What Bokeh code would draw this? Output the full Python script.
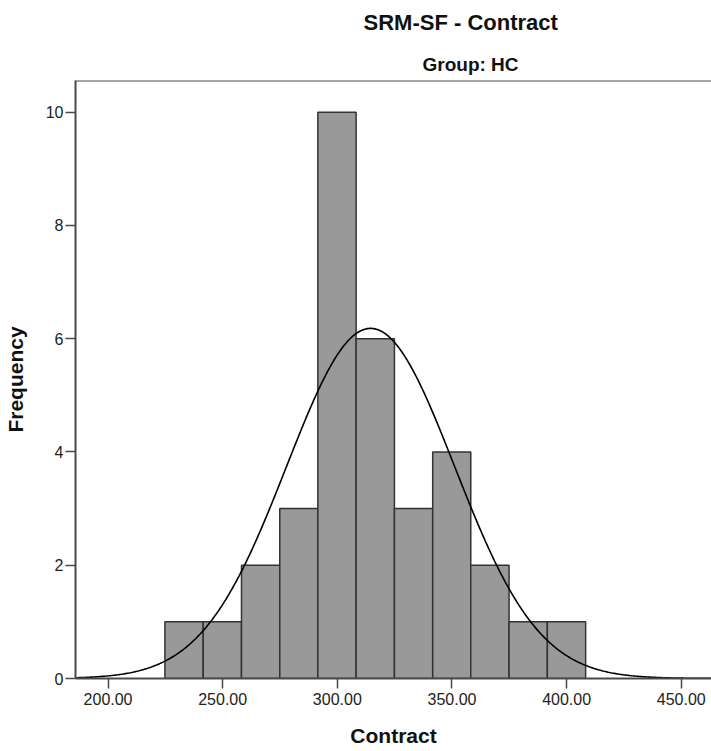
import numpy as np
from bokeh.plotting import figure
from bokeh.models import Range1d, FixedTicker, PrintfTickFormatter, Title, Span
from bokeh.embed import file_html
from bokeh.resources import INLINE

# ---- data ----
bin_edges = [224.8, 241.5, 258.2, 274.9, 291.5, 308.2, 324.9, 341.6, 358.2, 374.9, 391.6, 408.3]
counts = [1, 1, 2, 3, 10, 6, 3, 4, 2, 1, 1]
x_ticks = [200, 250, 300, 350, 400, 450]
y_ticks = [0, 2, 4, 6, 8, 10]
fit_mean = 314.5   # mean of the fitted normal curve
fit_sd = 36.6      # std. deviation of the fitted normal curve
n_obs = sum(counts)

x_lo, x_hi = 185.8, 463.2
y_lo, y_hi = 0, 10.56

FONT = "Liberation Sans"
AXIS_COL = "#4a4a4a"

p = figure(width=711, height=751, output_backend="svg", toolbar_location=None,
           x_range=Range1d(x_lo, x_hi), y_range=Range1d(y_lo, y_hi),
           min_border_left=73, min_border_right=0, min_border_top=80, min_border_bottom=73,
           title=None)
p.outline_line_color = None
p.grid.visible = False
p.background_fill_color = "white"
p.border_fill_color = "white"

p.quad(left=bin_edges[:-1], right=bin_edges[1:], bottom=0, top=counts,
       fill_color="#999999", line_color="#333333", line_width=1.5)

bw = (bin_edges[-1] - bin_edges[0]) / len(counts)
xs = np.linspace(x_lo, x_hi, 500)
ys = n_obs * bw / (fit_sd * np.sqrt(2 * np.pi)) * np.exp(-0.5 * ((xs - fit_mean) / fit_sd) ** 2)
p.line(xs, ys, line_color="black", line_width=1.6)

# top frame line
p.add_layout(Span(location=y_hi, dimension="width", line_color=AXIS_COL, line_width=2))

for ax in (p.xaxis[0], p.yaxis[0]):
    ax.axis_line_color = AXIS_COL
    ax.axis_line_width = 2
    ax.major_tick_line_color = AXIS_COL
    ax.major_tick_line_width = 1.5
    ax.major_tick_in = 0
    ax.major_tick_out = 10
    ax.minor_tick_line_color = None
    ax.major_label_text_font = FONT
    ax.major_label_text_font_size = "16px"
    ax.major_label_text_color = "#222222"
    ax.axis_label_text_font = FONT
    ax.axis_label_text_font_size = "21px"
    ax.axis_label_text_font_style = "bold"
    ax.axis_label_text_color = "#111111"

p.xaxis[0].ticker = FixedTicker(ticks=x_ticks)
p.xaxis[0].formatter = PrintfTickFormatter(format="%.2f")
p.xaxis[0].axis_label = "Contract"
p.xaxis[0].major_label_standoff = 4
p.xaxis[0].axis_label_standoff = 16

p.yaxis[0].ticker = FixedTicker(ticks=y_ticks)
p.yaxis[0].axis_label = "Frequency"
p.yaxis[0].major_label_standoff = 2
p.yaxis[0].axis_label_standoff = 16

sub = Title(text="Group: HC", align="left", offset=347, text_font=FONT,
            text_font_size="19px", text_font_style="bold", text_color="#111111",
            standoff=12, vertical_align="bottom")
p.add_layout(sub, "above")
main = Title(text="SRM-SF - Contract", align="left", offset=288, text_font=FONT,
             text_font_size="22px", text_font_style="bold", text_color="#111111",
             standoff=18, vertical_align="top")
p.add_layout(main, "above")

open("out.html", "w").write(file_html(p, INLINE))
